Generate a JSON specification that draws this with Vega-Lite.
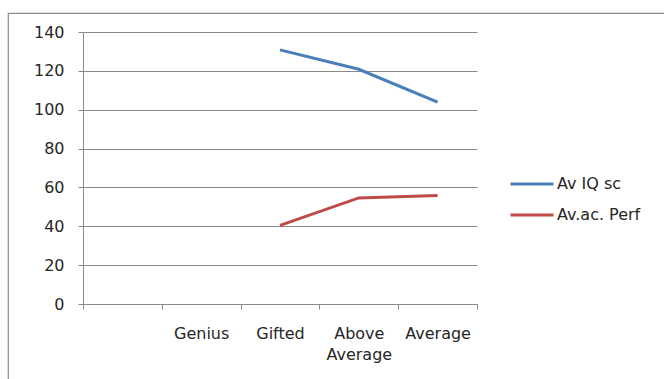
{
  "$schema": "https://vega.github.io/schema/vega-lite/v6.json",
  "autosize": {"type": "none"},
  "padding": {"left": 8, "top": 13, "right": 0, "bottom": 0},
  "width": 658,
  "height": 368,
  "background": "white",
  "config": {
    "font": "DejaVu Sans",
    "view": {"stroke": "#8a8a8a", "strokeWidth": 1.2}
  },
  "data": {
    "values": [
      {"group": "Gifted", "series": "Av IQ sc", "score": 130.8},
      {"group": "Above Average", "series": "Av IQ sc", "score": 120.8},
      {"group": "Average", "series": "Av IQ sc", "score": 103.9},
      {"group": "Gifted", "series": "Av.ac. Perf", "score": 40.5},
      {"group": "Above Average", "series": "Av.ac. Perf", "score": 54.6},
      {"group": "Average", "series": "Av.ac. Perf", "score": 55.8}
    ]
  },
  "mark": {"type": "line", "strokeWidth": 3},
  "encoding": {
    "x": {
      "field": "group",
      "type": "nominal",
      "sort": null,
      "scale": {
        "type": "band",
        "domain": [" ", "Genius", "Gifted", "Above Average", "Average"],
        "range": [75, 469],
        "paddingInner": 0,
        "paddingOuter": 0
      },
      "axis": {
        "orient": "bottom",
        "offset": -77,
        "title": null,
        "grid": false,
        "tickBand": "extent",
        "domainColor": "#8a8a8a",
        "tickColor": "#8a8a8a",
        "tickSize": 5,
        "labelAngle": 0,
        "labelFontSize": 16,
        "labelColor": "#262626",
        "labelPadding": 16,
        "labelLineHeight": 21,
        "labelOverlap": false,
        "labelFlush": false,
        "labelExpr": "datum.value == 'Above Average' ? ['Above', 'Average'] : datum.value"
      }
    },
    "y": {
      "field": "score",
      "type": "quantitative",
      "scale": {"domain": [0, 140], "range": [291, 19], "nice": false},
      "axis": {
        "orient": "left",
        "offset": -75,
        "title": null,
        "values": [0, 20, 40, 60, 80, 100, 120, 140],
        "grid": true,
        "gridColor": "#8a8a8a",
        "gridWidth": 1,
        "domainColor": "#8a8a8a",
        "tickColor": "#8a8a8a",
        "tickSize": 5,
        "labelFontSize": 16,
        "labelColor": "#262626",
        "labelPadding": 14,
        "labelFlush": false,
        "labelOverlap": false
      }
    },
    "color": {
      "field": "series",
      "type": "nominal",
      "scale": {
        "domain": ["Av IQ sc", "Av.ac. Perf"],
        "range": ["#4A7EBB", "#BE4B48"]
      },
      "legend": {
        "orient": "none",
        "legendX": 501,
        "legendY": 148,
        "title": null,
        "symbolType": "stroke",
        "symbolSize": 1849,
        "symbolStrokeWidth": 3,
        "labelFontSize": 16,
        "labelColor": "#262626",
        "labelOffset": 2,
        "rowPadding": -1
      }
    }
  }
}
